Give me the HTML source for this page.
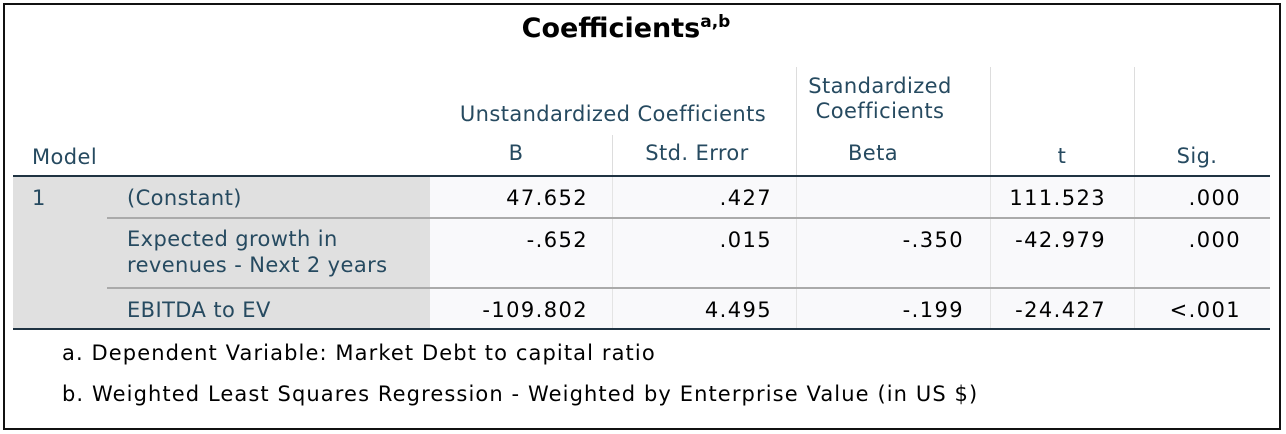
<!DOCTYPE html>
<html><head><style>
body{margin:0;width:1286px;height:434px;background:#fff;position:relative;overflow:hidden;font-family:"DejaVu Sans",sans-serif}
div{position:absolute;box-sizing:border-box}
.h{color:#264a60;font-size:21px;white-space:nowrap;letter-spacing:0.4px}
.v{color:#000;font-size:21px;white-space:nowrap;text-align:right;letter-spacing:1.4px}
.f{color:#000;font-size:21px;white-space:nowrap;letter-spacing:1.1px}
.c{text-align:center}
</style></head><body>
<div style="left:3px;top:3px;width:1278px;height:427px;border:2px solid #111"></div>
<div style="left:0;top:12px;width:1252px;text-align:center;font-size:27px;font-weight:bold;color:#000">Coefficients<sup style="font-size:17px">a,b</sup></div>
<div style="left:13px;top:177px;width:417px;height:151px;background:#e0e0e0"></div>
<div style="left:430px;top:177px;width:840px;height:151px;background:#f9f9fb"></div>
<div style="left:612px;top:135px;width:1px;height:41px;background:#ddd"></div>
<div style="left:796px;top:67px;width:1px;height:109px;background:#ddd"></div>
<div style="left:990px;top:67px;width:1px;height:109px;background:#ddd"></div>
<div style="left:1134px;top:67px;width:1px;height:109px;background:#ddd"></div>
<div style="left:612px;top:177px;width:1px;height:151px;background:#e4e4e4"></div>
<div style="left:796px;top:177px;width:1px;height:151px;background:#e4e4e4"></div>
<div style="left:990px;top:177px;width:1px;height:151px;background:#e4e4e4"></div>
<div style="left:1134px;top:177px;width:1px;height:151px;background:#e4e4e4"></div>
<div style="left:13px;top:175px;width:1257px;height:2px;background:#1f3342"></div>
<div style="left:107px;top:217px;width:1163px;height:2px;background:#aaa"></div>
<div style="left:107px;top:287px;width:1163px;height:2px;background:#aaa"></div>
<div style="left:13px;top:328px;width:1257px;height:2px;background:#1f3342"></div>
<div class="h" style="left:32px;top:145px">Model</div>
<div class="h c" style="left:430px;top:102px;width:366px">Unstandardized Coefficients</div>
<div class="h c" style="left:796px;top:74px;width:168px;line-height:25px">Standardized<br>Coefficients</div>
<div class="h c" style="left:430px;top:141px;width:172px">B</div>
<div class="h c" style="left:612px;top:141px;width:170px">Std. Error</div>
<div class="h c" style="left:796px;top:141px;width:154px">Beta</div>
<div class="h c" style="left:990px;top:144px;width:144px">t</div>
<div class="h c" style="left:1134px;top:144px;width:126px">Sig.</div>
<div class="h" style="left:32px;top:186px">1</div>
<div class="h" style="left:127px;top:186px">(Constant)</div>
<div class="h" style="left:127px;top:226px;line-height:26px">Expected growth in<br>revenues - Next 2 years</div>
<div class="h" style="left:127px;top:298px">EBITDA to EV</div>
<div class="v" style="left:430px;top:186px;width:158px">47.652</div>
<div class="v" style="left:612px;top:186px;width:160px">.427</div>
<div class="v" style="left:990px;top:186px;width:116px">111.523</div>
<div class="v" style="left:1134px;top:186px;width:107px">.000</div>
<div class="v" style="left:430px;top:228px;width:158px">-.652</div>
<div class="v" style="left:612px;top:228px;width:160px">.015</div>
<div class="v" style="left:796px;top:228px;width:168px">-.350</div>
<div class="v" style="left:990px;top:228px;width:116px">-42.979</div>
<div class="v" style="left:1134px;top:228px;width:107px">.000</div>
<div class="v" style="left:430px;top:298px;width:158px">-109.802</div>
<div class="v" style="left:612px;top:298px;width:160px">4.495</div>
<div class="v" style="left:796px;top:298px;width:168px">-.199</div>
<div class="v" style="left:990px;top:298px;width:116px">-24.427</div>
<div class="v" style="left:1134px;top:298px;width:107px">&lt;.001</div>
<div class="f" style="left:62px;top:341px">a. Dependent Variable: Market Debt to capital ratio</div>
<div class="f" style="left:62px;top:382px">b. Weighted Least Squares Regression - Weighted by Enterprise Value (in US $)</div>
</body></html>
